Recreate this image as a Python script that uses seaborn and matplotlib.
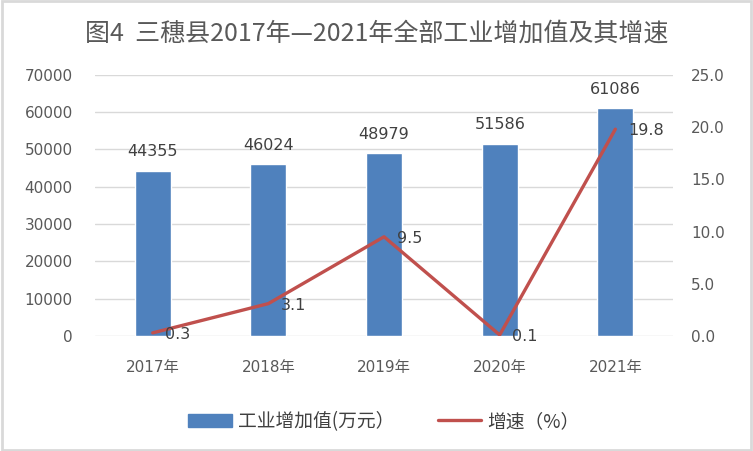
import numpy as np
import seaborn as sns
import matplotlib.pyplot as plt
from matplotlib.patches import Rectangle
from matplotlib.lines import Line2D

years = ["2017年", "2018年", "2019年", "2020年", "2021年"]
added_value = [44355, 46024, 48979, 51586, 61086]
growth = [0.3, 3.1, 9.5, 0.1, 19.8]

bar_color = "#4F81BD"
line_color = "#C0504D"
grid_color = "#D9D9D9"
tick_color = "#595959"
num_font = ["DejaVu Sans", "Noto Sans CJK SC"]

sns.set_theme(style="white")
plt.rcParams["font.family"] = ["Noto Sans CJK SC", "DejaVu Sans"]

fig = plt.figure(figsize=(7.53, 4.51), dpi=100)
ax = fig.add_axes([0.126, 0.255, 0.768, 0.579])

sns.barplot(x=years, y=added_value, color=bar_color, width=0.31,
            saturation=1, ax=ax, zorder=2)
ax.set_ylim(0, 70000)
ax.set_yticks(range(0, 70001, 10000))
ax.set_xlim(-0.5, len(years) - 0.5)
ax.yaxis.grid(True, color=grid_color, linewidth=1, zorder=0)
ax.set_axisbelow(True)
for s in ax.spines.values():
    s.set_visible(False)
ax.tick_params(axis="both", length=0, labelsize=11, colors=tick_color)
ax.tick_params(axis="x", pad=17)
ax.tick_params(axis="y", pad=16)
for lab in ax.get_xticklabels() + ax.get_yticklabels():
    lab.set_family(num_font)
    lab.set_fontsize(11)

# value labels on bars
for i, v in enumerate(added_value):
    ax.annotate(f"{v}", (i, v), xytext=(0, 8), textcoords="offset points",
                ha="center", va="bottom", fontsize=11.5, color="#404040",
                family=num_font)

# growth line on second axis
ax2 = ax.twinx()
xpos = np.arange(len(years))
sns.lineplot(x=xpos, y=growth, color=line_color, linewidth=2.4, ax=ax2)
ax2.set_ylim(0, 25)
ax2.set_yticks(np.arange(0, 25.1, 5))
ax2.set_yticklabels([f"{t:.1f}" for t in np.arange(0, 25.1, 5)])
ax2.set_xlim(-0.5, len(years) - 0.5)
for s in ax2.spines.values():
    s.set_visible(False)
ax2.tick_params(axis="y", length=0, labelsize=11, colors=tick_color, pad=13)
for lab in ax2.get_yticklabels():
    lab.set_family(num_font)
ax2.grid(False)

for i, g in enumerate(growth):
    ax2.annotate(f"{g}", (i, g), xytext=(9, -1), textcoords="offset points",
                 ha="left", va="center", fontsize=11.5, color="#404040",
                 family=num_font)

fig.text(0.5, 0.926, "图4  三穗县2017年—2021年全部工业增加值及其增速",
         ha="center", va="center", fontsize=18, color="#595959")

handles = [Rectangle((0, 0), 1, 1, color=bar_color),
           Line2D([0], [0], color=line_color, linewidth=2.4)]
fig.legend(handles, ["工业增加值(万元）", "增速（%）"], loc="center",
           bbox_to_anchor=(0.51, 0.066), ncol=2, frameon=False,
           fontsize=13.5, handlelength=2.3, handletextpad=0.35,
           columnspacing=2.3, labelcolor="#404040")

fig.patches.append(Rectangle((0.002, 0.003), 0.995, 0.994,
                             transform=fig.transFigure, fill=False,
                             edgecolor=grid_color, linewidth=2))

fig.savefig("out.png", dpi=100)
